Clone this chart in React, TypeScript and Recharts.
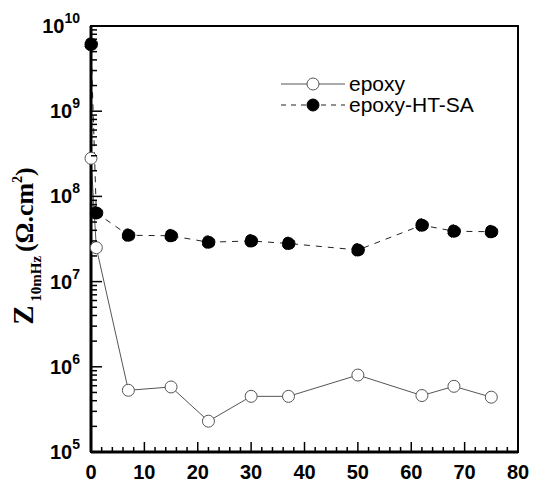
import { LineChart, Line, XAxis, YAxis, ReferenceArea } from "recharts";

const days = [0, 1, 7, 15, 22, 30, 37, 50, 62, 68, 75];
const epoxy = [2.8e8, 2.5e7, 5.3e5, 5.8e5, 2.3e5, 4.5e5, 4.5e5, 8.0e5, 4.6e5, 5.9e5, 4.4e5];
const epoxyHtSa = [6.1e9, 6.4e7, 3.5e7, 3.45e7, 2.9e7, 3.0e7, 2.8e7, 2.35e7, 4.6e7, 3.9e7, 3.85e7];

const xTicks = Array.from({ length: 41 }, (_, i) => i * 2);
const decades = [5, 6, 7, 8, 9];
const yTicks = [
  ...decades.flatMap((d) => [1, 2, 3, 4, 5, 6, 7, 8, 9].map((m) => m * Math.pow(10, d))),
  1e10,
];

const data = days.map((d, i) => ({ day: d, epoxy: epoxy[i], htsa: epoxyHtSa[i] }));

const tickFont = "'Liberation Sans', Arial, sans-serif";

// ticks point inward, labels only on the decades / tens
function XTick(props: any) {
  const x = Number(props.x);
  const y = Number(props.y);
  const v = props.payload.value as number;
  const major = v % 10 === 0;
  return (
    <g>
      <path d={`M${x},${y}V${y - (major ? 10 : 5)}`} stroke="#000" strokeWidth={1.5} fill="none" />
      {major && (
        <text x={x} y={y + 27} textAnchor="middle" fontFamily={tickFont} fontWeight="bold" fontSize={20} fill="#000" stroke="none">
          {v}
        </text>
      )}
    </g>
  );
}

function YTick(props: any) {
  const x = Number(props.x);
  const y = Number(props.y);
  const v = props.payload.value as number;
  const exp = Math.log10(v);
  const major = Math.abs(exp - Math.round(exp)) < 1e-9;
  return (
    <g>
      <path d={`M${x},${y}H${x + (major ? 11 : 6)}`} stroke="#000" strokeWidth={1.5} fill="none" />
      {major && (
        <text x={x - 11} y={y + 7} textAnchor="end" fontFamily={tickFont} fontWeight="bold" fontSize={20} fill="#000" stroke="none">
          10
          <tspan fontSize={14} dy={-10}>
            {Math.round(exp)}
          </tspan>
        </text>
      )}
    </g>
  );
}

function LegendBox() {
  const row = (label: string, dashed: boolean) => (
    <div style={{ display: "flex", alignItems: "center", height: 21 }}>
      <svg width={66} height={20}>
        <line x1={0} x2={64} y1={10} y2={10} stroke={dashed ? "#222" : "#555"} strokeWidth={1} strokeDasharray={dashed ? "5 5" : undefined} />
        <circle cx={32} cy={10} r={6} fill={dashed ? "#000" : "#fff"} stroke={dashed ? "#000" : "#555"} strokeWidth={1} />
      </svg>
      <span style={{ marginLeft: 2, fontFamily: tickFont, fontSize: 21, lineHeight: "21px", color: "#000", whiteSpace: "nowrap" }}>{label}</span>
    </div>
  );
  return (
    <div style={{ position: "absolute", left: 281, top: 73 }}>
      {row("epoxy", false)}
      {row("epoxy-HT-SA", true)}
    </div>
  );
}

export default function App() {
  return (
    <div style={{ position: "absolute", left: 0, top: 0, width: 535, height: 486, background: "#fff" }}>
      <LineChart width={535} height={486} data={data} margin={{ top: 26, right: 17, bottom: 4, left: 0 }}>
        <XAxis
          dataKey="day"
          type="number"
          domain={[0, 80]}
          ticks={xTicks}
          interval={0}
          tickSize={0}
          tickMargin={0}
          tick={(p: any) => <XTick {...p} />}
          axisLine={{ stroke: "#000", strokeWidth: 3 }}
          height={30}
        />
        <YAxis
          type="number"
          scale="log"
          domain={[1e5, 1e10]}
          ticks={yTicks}
          interval={0}
          tickSize={0}
          tickMargin={0}
          tick={(p: any) => <YTick {...p} />}
          axisLine={{ stroke: "#000", strokeWidth: 3 }}
          width={91}
          label={{
            content: () => (
              <text
                x={33}
                y={246}
                transform="rotate(-90, 33, 246)"
                textAnchor="middle"
                fontFamily="'Liberation Serif', 'Times New Roman', serif"
                fontWeight="bold"
                fill="#000"
              >
                <tspan fontSize={29}>Z</tspan>
                <tspan fontSize={15} dy={8}> 10mHz </tspan>
                <tspan fontSize={26} dy={-8}>(Ω.cm</tspan>
                <tspan fontSize={14} dy={-11}>2</tspan>
                <tspan fontSize={26} dy={11}>)</tspan>
              </text>
            ),
          }}
        />
        <ReferenceArea x1={0} x2={80} y1={1e5} y2={1e10} fill="none" stroke="#000" strokeWidth={2} ifOverflow="visible" />
        <Line
          dataKey="epoxy"
          type="linear"
          stroke="#555"
          strokeWidth={1}
          dot={{ r: 6, fill: "#fff", stroke: "#555", strokeWidth: 1 }}
          isAnimationActive={false}
        />
        <Line
          dataKey="htsa"
          type="linear"
          stroke="#222"
          strokeWidth={1}
          strokeDasharray="6 6"
          dot={{ r: 6.5, fill: "#000", stroke: "#000", strokeWidth: 1 }}
          isAnimationActive={false}
        />
      </LineChart>
      <LegendBox />
    </div>
  );
}
